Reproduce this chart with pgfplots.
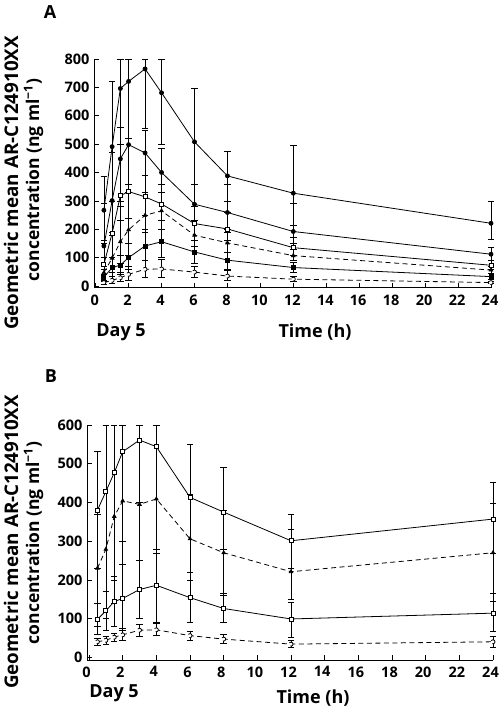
\documentclass[border=0pt]{standalone}
\usepackage{fontspec}
\setmainfont{Open Sans}
\usepackage{pgfplots}
\pgfplotsset{compat=1.18}
\newcommand\tickfont{\fontsize{14.5pt}{14.5pt}\selectfont\bfseries}
\newcommand\labfont{\fontsize{18pt}{18pt}\selectfont\bfseries}
\newcommand\ylabfonta{\fontsize{18.8pt}{18.8pt}\selectfont\bfseries}
\newcommand\ylabfontb{\fontsize{17.5pt}{17.5pt}\selectfont\bfseries}
\pgfplotsset{
 pk/.style={
  scale only axis, anchor=south west,
  axis x line=bottom, axis y line=left,
  axis line style={-, line width=0.8pt},
  tick align=inside, major tick length=5pt,
  every tick/.style={black, line width=0.7pt},
  xtick={0,2,...,24},
  minor tick num=0,
  tick label style={font=\tickfont},
  xticklabel style={yshift=-4pt, xshift=-1pt},
  yticklabel style={xshift=-1pt},
  /pgf/number format/assume math mode=true,
  clip=false,
 },
 ln/.style={black, line width=0.8pt, mark size=2pt, mark options={solid, fill=black}},
 dsh/.style={black, line width=0.8pt, dash pattern=on 5pt off 3.5pt, mark size=2pt, mark options={solid, fill=black}},
 eb/.style={error bars/.cd, y dir=both, y explicit, error bar style={line width=0.5pt, solid}, error mark options={line width=0.5pt, mark size=3.2pt, solid, rotate=90}},
 table/errtab/.style={x=t, y=v, y error plus expr=\thisrow{up}-\thisrow{v}, y error minus expr=\thisrow{v}-\thisrow{lo}},
}
\begin{document}
\begin{tikzpicture}
\useasboundingbox (0,0) rectangle (500pt,708pt);
% Panel A
\begin{axis}[pk, at={(94pt,420.3pt)}, width=397pt, height=228.7pt,
  xmin=-0.1, xmax=24, ymin=-6, ymax=800, ytick={0,100,...,800}]
\addplot[ln, mark=*, eb] table[errtab] {
t v up lo
0.5 267 386 150
1 491 720 300
1.5 696 800 560
2 721 800 520
3 765 800 555
4 681 800 500
6 508 696 360
8 388 474 300
12 327 496 215
24 221 298 165
};
\addplot[ln, mark=*, eb] table[errtab] {
t v up lo
0.5 141 290 70
1 301 470 190
1.5 448 800 300
2 498 800 360
3 469 550 390
4 400 485 330
6 288 360 230
8 259 360 200
12 192 290 150
24 112 135 90
};
\addplot[ln, mark=square*, mark options={fill=white}, eb] table[errtab] {
t v up lo
0.5 76 160 40
1 186 300 100
1.5 318 500 230
2 333 520 240
3 314 390 250
4 289 360 230
6 220 280 160
8 201 260 160
12 135 170 110
24 73 90 60
};
\addplot[dsh, mark=triangle*, eb] table[errtab] {
t v up lo
0.5 47 100 20
1 98 180 50
1.5 156 280 80
2 198 330 110
3 249 330 190
4 265 330 200
6 179 230 140
8 152 190 120
12 107 130 90
24 56 70 45
};
\addplot[ln, mark=square*, eb] table[errtab] {
t v up lo
0.5 32 60 15
1 64 100 35
1.5 74 110 40
2 100 150 60
3 141 200 90
4 156 200 100
6 120 160 80
8 91 120 60
12 65 85 50
24 33 45 25
};
\addplot[dsh, mark=*, mark options={fill=white}, eb] table[errtab] {
t v up lo
0.5 12 20 5
1 20 35 10
1.5 29 50 15
2 41 70 20
3 59 90 30
4 60 95 30
6 49 70 30
8 35 55 20
12 24 35 15
24 12 18 8
};
\end{axis}
% Panel B
\begin{axis}[pk, at={(87pt,48pt)}, width=406pt, height=235pt,
  xmin=-0.12, xmax=24, ymin=-7, ymax=600, ytick={0,100,...,600},
  xticklabel style={xshift=-1.5pt, yshift=1pt}]
\addplot[ln, mark=square*, mark options={fill=white}, eb] table[errtab] {
t v up lo
0.5 380 533 230
1 428 600 170
1.5 477 600 200
2 531 600 300
3 561 600 400
4 544 600 280
6 413 550 220
8 375 490 280
12 301 370 230
24 357 453 270
};
\addplot[dsh, mark=triangle*, eb] table[errtab] {
t v up lo
0.5 230 370 80
1 279 600 100
1.5 364 600 140
2 404 600 240
3 395 600 250
4 409 600 270
6 306 420 200
8 270 380 160
12 221 330 150
24 270 397 145
};
\addplot[ln, mark=square*, mark options={fill=white}, eb] table[errtab] {
t v up lo
0.5 98 140 60
1 120 170 70
1.5 144 210 80
2 152 240 70
3 175 250 100
4 186 280 90
6 154 220 90
8 126 165 90
12 99 143 53
24 114 165 66
};
\addplot[dsh, mark=*, mark options={fill=white}, eb] table[errtab] {
t v up lo
0.5 40 50 30
1 44 55 33
1.5 52 62 42
2 58 75 45
3 70 85 55
4 71 88 58
6 56 68 45
8 47 60 35
12 34 45 25
24 40 55 27
};
\end{axis}
% labels
\node[font=\labfont] at (50pt,696pt) {A};
\node[font=\labfont] at (51pt,332pt) {B};
\node[font=\labfont] at (121pt,376pt) {Day 5};
\node[font=\labfont] at (315pt,376pt) {Time (h)};
\node[font=\labfont] at (114pt,15pt) {Day 5};
\node[font=\labfont] at (313pt,10pt) {Time (h)};
\node[font=\ylabfonta, rotate=90, anchor=base] at (18pt,525pt) {Geometric mean AR-C124910XX};
\node[font=\ylabfontb, rotate=90, anchor=base] at (39pt,528pt) {concentration (ng ml\textsuperscript{−1})};
\node[font=\ylabfonta, rotate=90, anchor=base] at (18pt,166pt) {Geometric mean AR-C124910XX};
\node[font=\ylabfontb, rotate=90, anchor=base] at (39pt,165pt) {concentration (ng ml\textsuperscript{−1})};
\end{tikzpicture}
\end{document}
